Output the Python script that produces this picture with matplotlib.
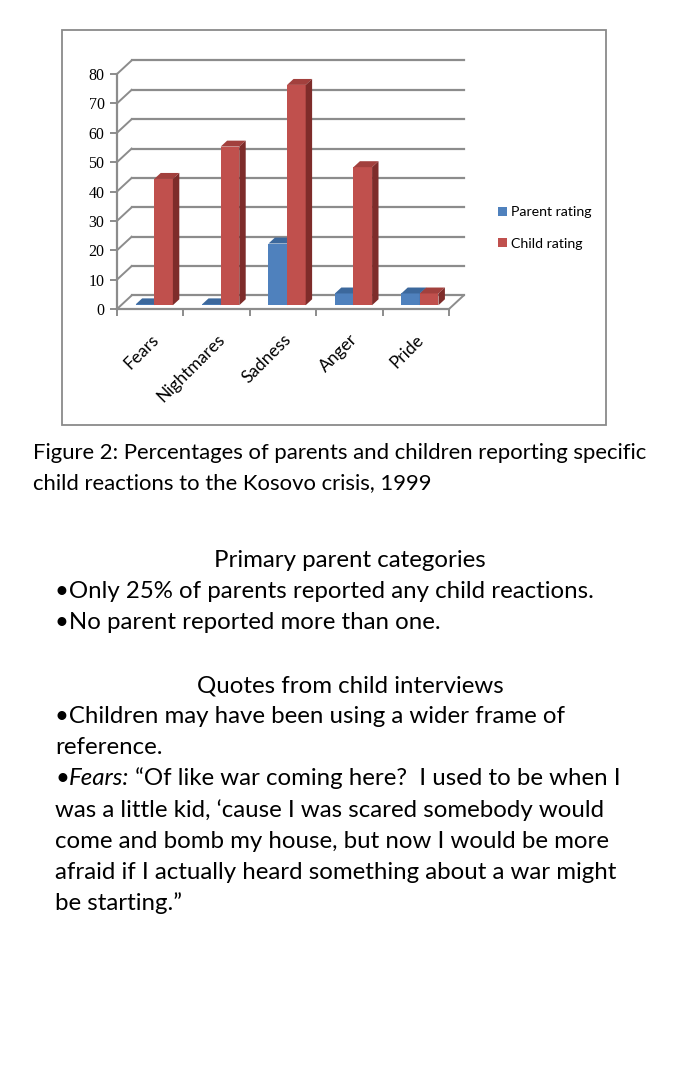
import matplotlib.pyplot as plt
from matplotlib.patches import Polygon, Rectangle

# data
categories = ['Fears', 'Nightmares', 'Sadness', 'Anger', 'Pride']
parent_rating = [0.3, 0.3, 21, 4, 4]
child_rating = [43, 54, 75, 47, 4]
y_ticks = [0, 10, 20, 30, 40, 50, 60, 70, 80]

caption = ['Figure 2: Percentages of parents and children reporting specific',
           'child reactions to the Kosovo crisis, 1999']
parent_head = 'Primary parent categories'
parent_lines = ['\u2022Only 25% of parents reported any child reactions.',
                '\u2022No parent reported more than one.']
quote_head = 'Quotes from child interviews'
quote_lines = ['\u2022Children may have been using a wider frame of',
               'reference.',
               None,  # the Fears line, drawn in pieces
               'was a little kid, \u2018cause I was scared somebody would',
               'come and bomb my house, but now I would be more',
               'afraid if I actually heard something about a war might',
               'be starting.\u201d']
fears_rest = ' \u201cOf like war coming here?  I used to be when I'

W, H = 684, 1080
fig = plt.figure(figsize=(W / 100, H / 100), dpi=100)
FONT = 'Lato'
grid_c = '#8c8c8c'


def fx(x):
    return x / W


def fy(y):
    return 1 - y / H


# chart frame
fig.patches.append(Rectangle((fx(62), fy(425)), fx(606) - fx(62), fy(30) - fy(425),
                             transform=fig.transFigure, fill=False,
                             edgecolor='#8a8a8a', lw=1.3))

ax = fig.add_axes([fx(117), fy(309), (449 - 117) / W, (309 - 74) / H])
ax.set_xlim(-0.5, 4.5)
ax.set_ylim(0, 80)
ax.patch.set_visible(False)
for s in ['top', 'right']:
    ax.spines[s].set_visible(False)
for s in ['left', 'bottom']:
    ax.spines[s].set_color(grid_c)
    ax.spines[s].set_linewidth(1.6)

# pseudo 3d depth (data units)
ddx, ddy = 0.22, 4.6
f0, dd = 0.28, 0.44

# back wall grid, left wall diagonals, floor edge
for v in y_ticks:
    ax.plot([-0.5 + ddx, 4.5 + ddx], [v + ddy, v + ddy], color=grid_c, lw=1.6,
            clip_on=False, zorder=1)
    ax.plot([-0.5, -0.5 + ddx], [v, v + ddy], color=grid_c, lw=1.4,
            clip_on=False, zorder=1)
ax.plot([4.5, 4.5 + ddx], [0, ddy], color=grid_c, lw=1.4, clip_on=False, zorder=1)


def bars3d(xs, vals, front, top, side, label):
    w = 0.28
    b0 = f0 * ddy
    cont = ax.bar(xs, vals, w, bottom=b0, color=front, zorder=3, label=label)
    for x, v in zip(xs, vals):
        x0, x1 = x - w / 2, x + w / 2
        t = b0 + v
        ox, oy = dd * ddx, dd * ddy
        ax.add_patch(Polygon([(x0, t), (x1, t), (x1 + ox, t + oy), (x0 + ox, t + oy)],
                             closed=True, color=top, zorder=3, lw=0))
        ax.add_patch(Polygon([(x1, b0), (x1, t), (x1 + ox, t + oy), (x1 + ox, b0 + oy)],
                             closed=True, color=side, zorder=3, lw=0))
    return cont


idx = range(len(categories))
shift = f0 * ddx
bars3d([i - 0.14 + shift for i in idx], parent_rating,
       '#4F81BD', '#3C689C', '#2F5380', 'Parent rating')
bars3d([i + 0.14 + shift for i in idx], child_rating,
       '#C0504D', '#A2403D', '#7E2C2A', 'Child rating')

# ticks
ax.set_yticks(y_ticks)
ax.set_yticklabels([str(v) for v in y_ticks], family='Liberation Serif', fontsize=11.5)
ax.tick_params(axis='y', length=5, width=1.4, color=grid_c, pad=4)
ax.set_xticks([i - 0.5 for i in range(len(categories) + 1)])
ax.set_xticklabels([])
ax.tick_params(axis='x', length=5, width=1.4, color=grid_c)
ax.set_xticks(list(idx), minor=True)
ax.set_xticklabels(categories, minor=True, rotation=45, ha='right',
                   rotation_mode='anchor', family=FONT, fontsize=12.5)
ax.tick_params(axis='x', which='minor', length=0, pad=16)

ax.legend(loc='center left', bbox_to_anchor=(fx(491), fy(228)),
          bbox_transform=fig.transFigure, frameon=False, borderpad=0,
          handlelength=0.65, handleheight=0.65, handletextpad=0.25,
          labelspacing=1.35, prop={'family': FONT, 'size': 10.2})

# caption
for i, line in enumerate(caption):
    fig.text(fx(33), fy(459 + 30 * i), line, family=FONT, fontsize=15.9,
             va='baseline', ha='left')

# text blocks
fs = 17.3
fig.text(fx(350), fy(567), parent_head, family=FONT, fontsize=fs, ha='center', va='baseline')
for i, line in enumerate(parent_lines):
    fig.text(fx(55), fy(598 + 31 * i), line, family=FONT, fontsize=fs, va='baseline')

fig.text(fx(350), fy(692), quote_head, family=FONT, fontsize=fs, ha='center', va='baseline')
renderer = fig.canvas.get_renderer()
for i, line in enumerate(quote_lines):
    yb = fy(723 + 31.2 * i)
    if line is not None:
        fig.text(fx(55), yb, line, family=FONT, fontsize=fs, va='baseline')
        continue
    t1 = fig.text(fx(55), yb, '\u2022', family=FONT, fontsize=fs, va='baseline')
    e1 = t1.get_window_extent(renderer)
    t2 = fig.text(e1.x1 / W, yb, 'Fears:', family=FONT, fontsize=fs,
                  style='italic', va='baseline')
    e2 = t2.get_window_extent(renderer)
    fig.text(e2.x1 / W, yb, fears_rest, family=FONT, fontsize=fs, va='baseline')

fig.savefig('out.png', dpi=100, facecolor='white')
